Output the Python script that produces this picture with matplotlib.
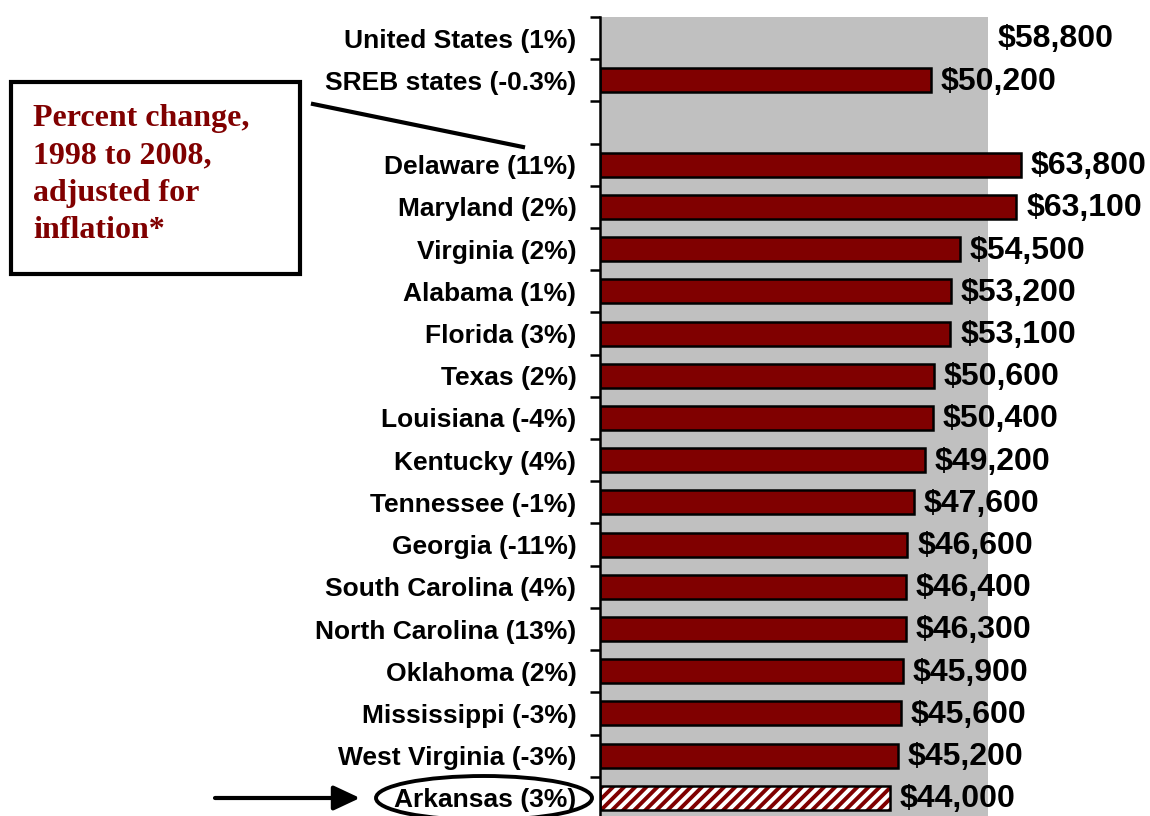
import numpy as np
import matplotlib
matplotlib.use("Agg")
import matplotlib.pyplot as plt
from matplotlib.patches import Ellipse, Rectangle
from matplotlib.lines import Line2D

states = ["United States", "SREB states", "", "Delaware", "Maryland", "Virginia",
          "Alabama", "Florida", "Texas", "Louisiana", "Kentucky", "Tennessee",
          "Georgia", "South Carolina", "North Carolina", "Oklahoma", "Mississippi",
          "West Virginia", "Arkansas"]
pct_change = ["1%", "-0.3%", "", "11%", "2%", "2%", "1%", "3%", "2%", "-4%", "4%",
              "-1%", "-11%", "4%", "13%", "2%", "-3%", "-3%", "3%"]
salaries = [58800, 50200, None, 63800, 63100, 54500, 53200, 53100, 50600, 50400,
            49200, 47600, 46600, 46400, 46300, 45900, 45600, 45200, 44000]
highlight = "Arkansas"
us_value = salaries[0]

dark_red = "#800000"
sans = ["Liberation Sans", "DejaVu Sans"]
serif = ["Liberation Serif", "DejaVu Serif"]

plt.rcParams["hatch.linewidth"] = 2.8

W, H = 1150, 816
fig = plt.figure(figsize=(W / 100, H / 100), dpi=100)
ax = fig.add_axes([600 / W, 0, 550 / W, 1 - 17 / H])

n = len(states)
ypos = np.arange(n)

# US average shown as the grey background band
ax.axvspan(0, us_value, color="#C0C0C0", lw=0, zorder=0)

labels = []
for i, (s, p, v) in enumerate(zip(states, pct_change, salaries)):
    labels.append(f"{s} ({p})" if s else "")
    if v is None:
        continue
    if i > 0:
        if s == highlight:
            ax.barh(i, v, height=0.57, color="white", edgecolor=dark_red,
                    hatch="///", lw=0, zorder=2)
            ax.barh(i, v, height=0.57, fill=False, edgecolor="black", lw=1.8, zorder=3)
        else:
            ax.barh(i, v, height=0.57, color=dark_red, edgecolor="black", lw=1.8, zorder=2)
    ax.annotate(f"${v:,.0f}", (v, i), xytext=(7, -1), textcoords="offset points",
                va="center", ha="left", fontsize=23, fontweight="bold",
                family=sans, annotation_clip=False)

ax.set_xlim(0, us_value * 550 / 388)
ax.set_ylim(18.43, -0.5)
ax.set_yticks(ypos)
ax.set_yticklabels(labels, fontsize=19, fontweight="bold", family=sans)
ax.tick_params(axis="y", which="major", length=0, pad=17)
ax.set_yticks(np.arange(-0.5, n - 0.5, 1), minor=True)
ax.tick_params(axis="y", which="minor", length=7, width=1.8, direction="out")
ax.set_xticks([])
for side in ["top", "right", "bottom"]:
    ax.spines[side].set_visible(False)
ax.spines["left"].set_linewidth(1.8)

# annotation box on the left
box = Rectangle((11 / W, 1 - 274 / H), 289 / W, 192 / H, transform=fig.transFigure,
                fill=False, lw=3, edgecolor="black")
fig.add_artist(box)
fig.text(33 / W, 1 - 104 / H, "Percent change,\n1998 to 2008,\nadjusted for\ninflation*",
         color=dark_red, fontsize=23, fontweight="bold", family=serif,
         va="top", ha="left", linespacing=1.38)
fig.add_artist(Line2D([313 / W, 523 / W], [1 - 104 / H, 1 - 147 / H],
                      transform=fig.transFigure, color="black", lw=3))

# arrow and ellipse pointing out Arkansas
ax.annotate("", xy=(360, H - 798), xycoords="figure pixels",
            xytext=(215, H - 798), textcoords="figure pixels",
            arrowprops=dict(arrowstyle="-|>,head_length=1.6,head_width=0.75",
                            color="black", lw=3, shrinkA=0, shrinkB=0))
fig.add_artist(Ellipse((484 / W, (H - 798) / H), 216 / W, 44 / H,
                       transform=fig.transFigure, fill=False, lw=2.8, edgecolor="black"))

fig.savefig("out.png", dpi=100)
